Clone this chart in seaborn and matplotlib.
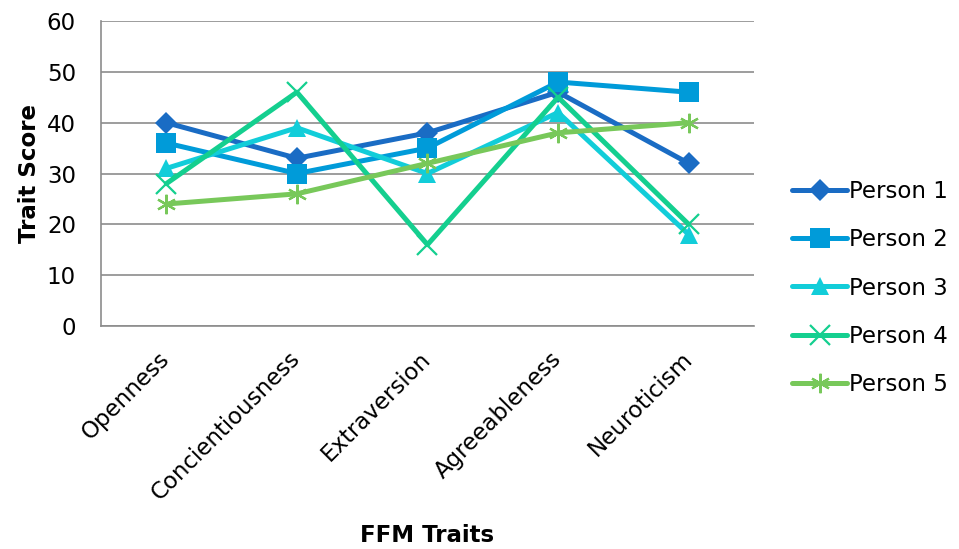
import matplotlib
matplotlib.use("Agg")
import matplotlib.pyplot as plt
import seaborn as sns
import pandas as pd

traits = ["Openness", "Concientiousness", "Extraversion", "Agreeableness", "Neuroticism"]
persons = ["Person 1", "Person 2", "Person 3", "Person 4", "Person 5"]
person1 = [40, 33, 38, 46, 32]
person2 = [36, 30, 35, 48, 46]
person3 = [31, 39, 30, 42, 18]
person4 = [28, 46, 16, 45, 20]
person5 = [24, 26, 32, 38, 40]
y_ticks = [0, 10, 20, 30, 40, 50, 60]

colors = ["#1a6cc4", "#009bd9", "#12cdd9", "#14cf8f", "#78c85a"]
markers = ["D", "s", "^", "x", (6, 2, 0)]
marker_sizes = [11, 14, 13, 14, 14]

rows = []
for name, vals in zip(persons, [person1, person2, person3, person4, person5]):
    for i, (t, v) in enumerate(zip(traits, vals)):
        rows.append({"Person": name, "Trait": t, "pos": i, "Score": v})
df = pd.DataFrame(rows)

sns.set_theme(style="white")
plt.rcParams["font.family"] = ["DejaVu Sans"]
for key in ["text.color", "axes.labelcolor", "xtick.color", "ytick.color"]:
    plt.rcParams[key] = "black"

fig = plt.figure(figsize=(9.59, 5.49), dpi=100)
ax = fig.add_axes([0.1053, 0.4062, 0.6809, 0.5555])

for name, col, mk, ms in zip(persons, colors, markers, marker_sizes):
    sub = df[df["Person"] == name]
    thin = mk in ("x",) or isinstance(mk, tuple)
    sns.lineplot(data=sub, x="pos", y="Score", ax=ax, color=col, linewidth=3.6,
                 marker=mk, markersize=ms,
                 markeredgewidth=1.6 if thin else 0,
                 markeredgecolor=col, markerfacecolor=col,
                 label=name, solid_capstyle="round")

fs = 16.5
ax.set_xlim(-0.5, 4.5)
ax.set_ylim(0, 60)
ax.set_yticks(y_ticks)
ax.set_xticks(range(len(traits)))
ax.set_xticklabels(traits, rotation=45, ha="right", va="center",
                   rotation_mode="anchor", fontsize=fs)
ax.tick_params(axis="x", pad=21, length=0)
ax.tick_params(axis="y", labelsize=fs, length=0, pad=18)
ax.yaxis.grid(True, color="#8c8c8c", linewidth=1.2)
ax.set_axisbelow(True)
for side in ["top", "right"]:
    ax.spines[side].set_visible(False)
for side in ["left", "bottom"]:
    ax.spines[side].set_color("#8c8c8c")
    ax.spines[side].set_linewidth(1.2)

ax.set_xlabel("FFM Traits", fontsize=fs, fontweight="bold")
ax.set_ylabel("Trait Score", fontsize=fs, fontweight="bold")
ax.xaxis.set_label_coords(0.5, -0.65)
ax.yaxis.set_label_coords(-0.092, 0.5)

ax.legend(loc="center left", bbox_to_anchor=(0.826, 0.4754),
          bbox_transform=fig.transFigure, frameon=False, fontsize=fs,
          handlelength=2.4, handletextpad=0.1, labelspacing=1.1,
          borderaxespad=0, borderpad=0)

fig.savefig("out.png", dpi=100)
